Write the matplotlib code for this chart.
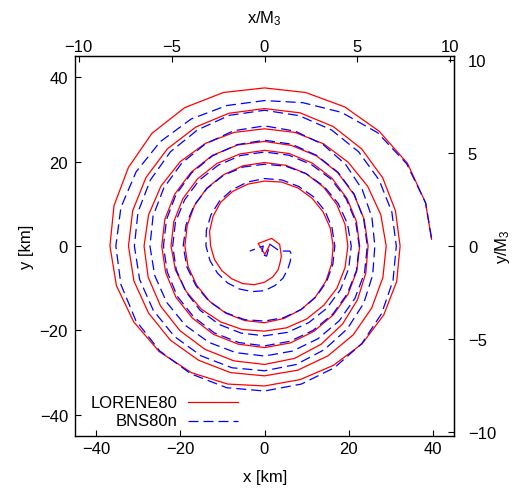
import numpy as np
import matplotlib
matplotlib.use("Agg")
import matplotlib.pyplot as plt

plt.rcParams["font.family"] = ["Liberation Sans", "DejaVu Sans"]
plt.rcParams["mathtext.fontset"] = "custom"
plt.rcParams["mathtext.rm"] = "Liberation Sans"
plt.rcParams["mathtext.it"] = "Liberation Sans:italic"
plt.rcParams["font.size"] = 12

# length unit of the top/right axes, in km
M3_KM = 4.41

# orbital phase within one turn (deg) at which the separation is sampled
turn_angles = [0, 15, 30, 45, 60, 75, 90, 105, 120, 135, 150, 165,
               180, 195, 210, 225, 240, 255, 270, 285, 300, 315, 330, 345]

# LORENE80: separation radius (km), one row per orbit, starting at phase 0
red_r_turns = [
    [39.7, 39.6, 39.2, 38.5, 38.1, 37.7, 37.5, 37.7, 37.9, 37.8, 37.3, 37.0,
     36.7, 36.4, 35.9, 35.4, 34.7, 33.9, 33.2, 32.8, 32.7, 32.8, 32.7, 32.5],
    [32.2, 32.2, 32.4, 32.6, 32.7, 32.7, 32.6, 32.6, 32.6, 32.6, 32.5, 32.4,
     32.3, 32.1, 31.8, 31.6, 31.3, 31.1, 30.8, 30.5, 30.1, 29.8, 29.4, 29.1],
    [28.9, 28.6, 28.3, 28.1, 28.0, 27.9, 27.8, 27.9, 28.1, 28.3, 28.4, 28.5,
     28.6, 28.6, 28.5, 28.4, 28.3, 28.2, 28.1, 27.6, 26.9, 26.2, 25.5, 24.9],
    [24.6, 24.5, 24.5, 24.6, 24.7, 24.7, 24.8, 24.8, 24.8, 24.7, 24.6, 24.5,
     24.4, 24.3, 24.3, 24.2, 24.2, 24.1, 24.1, 23.8, 23.4, 23.1, 22.9, 22.7],
    [22.6, 22.6, 22.6, 22.7, 22.7, 22.7, 22.7, 22.6, 22.6, 22.5, 22.4, 22.3,
     22.2, 21.9, 21.5, 21.2, 20.8, 20.5, 20.2, 20.1, 20.0, 19.9, 19.9, 19.8],
    [19.8, 19.8, 19.8, 19.8, 19.8, 19.8, 19.8, 19.7, 19.5, 19.4, 19.2, 19.0,
     18.9, 18.8, 18.6, 18.5, 18.4, 18.3, 18.2, 17.8, 17.4, 17.1, 16.8, 16.5],
    [16.3, 16.2, 16.1, 16.0, 15.9, 15.7, 15.4, 15.2, 15.0, 14.7, 14.1, 13.5,
     12.8, 12.3, 11.7, 11.0, 10.3, 9.5, 8.6, 7.6, 6.5, 5.3],
]
red_start_deg = 2.3
# remnant wobble near the centre (km)
red_core_x = [4.0, 3.6, 1.7, -1.5, 0.1, 1.3]
red_core_y = [-2.4, 0.4, 1.8, 0.6, -2.0, 0.4]

# BNS80n
blue_r_turns = [
    [39.7, 39.6, 39.0, 38.0, 36.6, 35.2, 34.5, 34.5, 34.8, 35.0, 35.2, 35.3,
     35.3, 35.3, 35.3, 35.2, 35.0, 34.8, 34.4, 33.9, 33.3, 32.7, 32.1, 31.6],
    [31.3, 31.3, 31.4, 31.6, 31.8, 32.0, 32.2, 32.1, 31.8, 31.6, 31.3, 31.1,
     30.9, 30.7, 30.5, 30.3, 30.1, 29.9, 29.6, 29.1, 28.4, 27.8, 27.2, 26.6],
    [26.2, 26.4, 26.8, 27.3, 27.8, 28.2, 28.5, 28.3, 28.0, 27.8, 27.6, 27.4,
     27.2, 27.0, 26.8, 26.6, 26.4, 26.2, 26.1, 25.8, 25.4, 25.1, 24.8, 24.6],
    [24.4, 24.4, 24.6, 24.7, 24.8, 25.0, 25.1, 24.9, 24.7, 24.5, 24.3, 24.1,
     24.0, 23.9, 23.9, 23.8, 23.8, 23.7, 23.7, 23.4, 23.1, 22.9, 22.7, 22.6],
    [22.5, 22.4, 22.4, 22.4, 22.3, 22.3, 22.3, 22.2, 22.1, 22.0, 21.9, 21.9,
     21.8, 21.7, 21.6, 21.6, 21.5, 21.4, 21.3, 21.2, 21.0, 20.9, 20.8, 20.7],
    [20.6, 20.4, 20.2, 20.0, 19.8, 19.6, 19.4, 19.4, 19.4, 19.3, 19.3, 19.3,
     19.3, 19.1, 18.8, 18.6, 18.3, 18.1, 17.8, 17.6, 17.4, 17.2, 17.0, 16.8],
    [16.7, 16.6, 16.6, 16.5, 16.3, 16.2, 16.0, 15.7, 15.4, 15.1, 14.7, 14.3,
     13.9, 13.4, 12.9, 12.4, 11.8, 11.2, 10.6, 9.7, 8.8, 7.8, 7.1, 6.5],
]
blue_start_deg = 2.8
blue_core_x = [6.0, 3.6, 1.3, 0.5, -0.7, -0.3, -3.5]
blue_core_y = [-1.2, -1.2, 0.4, -2.4, -2.0, 0.0, -1.2]

series_names = ["LORENE80", "BNS80n"]


def orbit_xy(r_turns, start_deg, core_x, core_y):
    theta, r = [], []
    for k, row in enumerate(r_turns):
        theta += [360 * k + a for a in turn_angles[:len(row)]]
        r += row
    theta[0] = start_deg
    th = np.radians(theta)
    r = np.asarray(r)
    return (np.concatenate([r * np.cos(th), core_x]),
            np.concatenate([r * np.sin(th), core_y]))


fig = plt.figure(figsize=(5.16, 4.89), dpi=100)
ax = fig.add_axes([75 / 516, 1 - 436.7 / 489, 379 / 516, 379.4 / 489])

rx, ry = orbit_xy(red_r_turns, red_start_deg, red_core_x, red_core_y)
bx, by = orbit_xy(blue_r_turns, blue_start_deg, blue_core_x, blue_core_y)

ax.plot(rx, ry, color="#ff0000", lw=0.9)
ax.plot(bx, by, color="#0000ff", lw=0.9, dashes=(8, 4))

ax.set_xlim(-45, 45)
ax.set_ylim(-45, 45)
ax.set_xticks([-40, -20, 0, 20, 40])
ax.set_yticks([-40, -20, 0, 20, 40])
ax.tick_params(direction="in", length=4.5, width=0.8, colors="black", labelsize=12)
ax.tick_params(axis="x", pad=4)
ax.tick_params(axis="y", pad=5)
for s in ax.spines.values():
    s.set_linewidth(1.0)

secx = ax.secondary_xaxis("top", functions=(lambda v: v / M3_KM, lambda v: v * M3_KM))
secx.set_xticks([-10, -5, 0, 5, 10])
secx.tick_params(direction="in", length=4.5, width=0.8, labelsize=12, pad=2)
secy = ax.secondary_yaxis("right", functions=(lambda v: v / M3_KM, lambda v: v * M3_KM))
secy.set_yticks([-10, -5, 0, 5, 10])
secy.tick_params(direction="in", length=4.5, width=0.8, labelsize=12, pad=10)

fig.text(264.7 / 516, 1 - 478 / 489, "x [km]", ha="center", va="center", fontsize=12)
fig.text(26 / 516, 1 - 246.7 / 489, "y [km]", ha="center", va="center", rotation=90, fontsize=12)
fig.text(264.7 / 516, 1 - 19 / 489, "x/M$_3$", ha="center", va="center", fontsize=12)
fig.text(503 / 516, 1 - 246.7 / 489, "y/M$_3$", ha="center", va="center", rotation=90, fontsize=12)

# key in the lower left corner: label first, sample line after it
key_rows = [(0.088, "#ff0000", None), (0.040, "#0000ff", (8, 4))]
for name, (ky, col, dsh) in zip(series_names, key_rows):
    ax.text(0.270, ky, name, transform=ax.transAxes, ha="right", va="center", fontsize=12)
    kw = dict(color=col, lw=0.9, transform=ax.transAxes)
    if dsh:
        kw["dashes"] = dsh
    ax.plot([0.299, 0.431], [ky, ky], **kw)

fig.savefig("out.png", dpi=100)
